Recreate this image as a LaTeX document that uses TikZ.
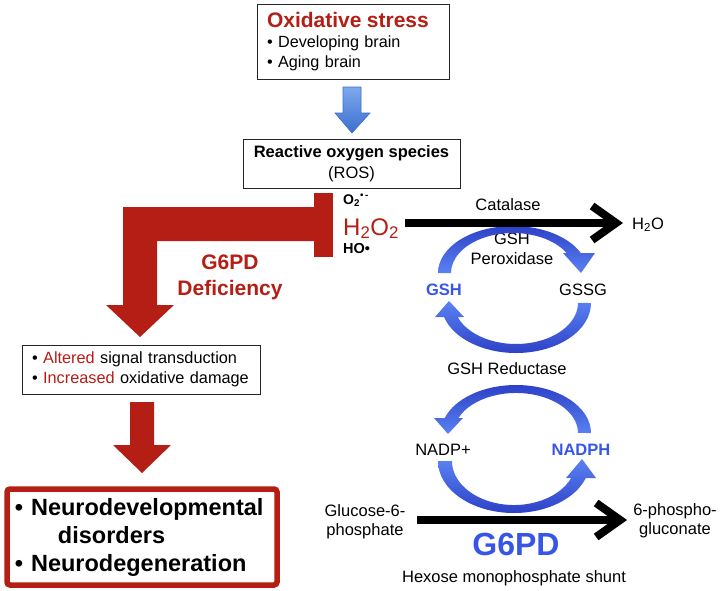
\documentclass[tikz,border=0pt]{standalone}
\usepackage{fontspec}
\setmainfont{Liberation Sans}
\usetikzlibrary{arrows.meta}
\definecolor{dred}{RGB}{180,30,20}
\definecolor{bdark}{RGB}{45,65,200}
\definecolor{blight}{RGB}{90,130,242}
\definecolor{tblue}{RGB}{55,85,230}
\definecolor{abluetop}{RGB}{125,170,238}
\definecolor{ablueb}{RGB}{60,110,205}
\newcommand\fsz[2]{\fontsize{#1pt}{#2pt}\selectfont}
\begin{document}
\begin{tikzpicture}[x=1pt,y=-1pt,
  box/.style={draw=black!85, line width=1pt, inner sep=0pt},
  blk/.style={line width=8pt, -{Straight Barb[length=24pt,width=34pt]}},
  upcurl/.style={top color=bdark, bottom color=blight, draw=none},
  downcurl/.style={top color=blight, bottom color=bdark, draw=none},
  lbl/.style={inner sep=0pt, font=\fsz{16.5}{19}},
  lblb/.style={inner sep=0pt, font=\fsz{16.5}{19}\bfseries, text=tblue},
]
\useasboundingbox (0,0) rectangle (724,590);

% top box
\node[box, minimum width=192pt, minimum height=75pt, text width=186pt, align=left, font=\fsz{16.2}{20}] (ox) at (353,41.5)
  {\hspace*{7pt}{\fsz{21}{22}\bfseries\color{dred}Oxidative stress\par}\hspace*{7pt}• Developing brain\\\hspace*{7pt}• Aging brain};

% blue down arrow
\shade[top color=abluetop, bottom color=ablueb, draw=ablueb, line width=0.6pt]
  (343,87) -- (361,87) -- (361,113) -- (370,113) -- (352,133) -- (335,113) -- (343,113) -- cycle;

% ROS box
\node[box, minimum width=217pt, minimum height=49pt, align=center, font=\fsz{16.5}{21}] (ros) at (351.5,163.5)
  {{\bfseries Reactive oxygen species}\\(ROS)};

% red L arrow and inhibition bar
\fill[dred] (314,207) -- (123,207) -- (123,305) -- (106,305) -- (140,337) -- (174,305) -- (157,305) -- (157,241) -- (314,241) -- cycle;
\fill[dred] (314,193) rectangle (333,257);

% species
\node[anchor=base west, inner sep=0pt, font=\fsz{14}{16}\bfseries] (o2) at (343,204) {O\textsubscript{2}\textsuperscript{•\,-}};
\node[anchor=base west, inner sep=0pt, font=\fsz{24}{28}, text=dred] (h2o2) at (343,235) {H\textsubscript{2}O\textsubscript{2}};
\node[anchor=base west, inner sep=0pt, font=\fsz{14.5}{16}\bfseries] (ho) at (343,253) {HO•};

\node[align=center, inner sep=0pt, font=\fsz{21}{26}\bfseries, text=dred] (def) at (230,277) {G6PD\\Deficiency};

% altered box
\node[box, minimum width=238pt, minimum height=49pt, text width=222pt, align=left, font=\fsz{16.3}{20}] (alt) at (141,369.5)
  {\hspace*{2pt}• \textcolor{dred}{Altered} signal transduction\\\hspace*{2pt}• \textcolor{dred}{Increased} oxidative damage};

% second red arrow
\fill[dred] (130,402) -- (154,402) -- (154,445) -- (171,445) -- (142,473) -- (113,445) -- (130,445) -- cycle;

% outcome box
\node[draw=dred, line width=5.5pt, rounded corners=3pt, inner sep=0pt, minimum width=270pt, minimum height=96pt,
  text width=262pt, align=left, font=\fsz{23.5}{28}\bfseries] (nd) at (142,537)
  {\hspace*{4pt}• Neurodevelopmental\\\hspace*{47pt}disorders\\\hspace*{4pt}• Neurodegeneration};

% right side labels
\node[lbl, anchor=base] (cat) at (508,210) {Catalase};
\node[lbl, anchor=base west] (h2o) at (632,229) {H\textsubscript{2}O};
\node[lbl, align=center, font=\fsz{16.5}{20}] (gpx) at (512,249) {GSH\\Peroxidase};
\node[lblb, anchor=base] (gsh) at (444,295) {GSH};
\node[lbl, anchor=base] (gssg) at (583,295) {GSSG};
\node[lbl, anchor=base] (gr) at (507,374) {GSH Reductase};
\node[lbl, anchor=base] (nadp) at (443,455) {NADP+};
\node[lblb, anchor=base] (nadph) at (581,455) {NADPH};
\node[lbl, align=center] (glu) at (365,522) {Glucose-6-\\phosphate};
\node[lbl, align=center] (pho) at (675,521) {6-phospho-\\gluconate};
\node[inner sep=0pt, font=\fsz{32}{36}\bfseries, text=tblue, anchor=base] (g6pd) at (516,555) {G6PD};
\node[lbl, anchor=base] (hmp) at (514,582) {Hexose monophosphate shunt};

% blue cycle arrows (tapered curved arrows)
% GSH -> GSSG (GSH peroxidase)
\shade[upcurl] (438,273) arc[start angle=180, end angle=335, x radius=75, y radius=47]
  -- (595,253) -- (581,273) -- (563,253) -- (566.7,253)
  arc[start angle=330, end angle=180, x radius=62, y radius=40] -- cycle;
% GSSG -> GSH (GSH reductase)
\shade[downcurl] (591,303) arc[start angle=0, end angle=163.7, x radius=75, y radius=50]
  -- (435,317) -- (449,301) -- (464,317) -- (457.7,317)
  arc[start angle=160, end angle=0, x radius=62, y radius=41] -- cycle;
% NADPH -> NADP+
\shade[upcurl] (591,433) arc[start angle=0, end angle=-161.8, x radius=75, y radius=48]
  -- (434,418) -- (448,434) -- (463,418) -- (458.5,418)
  arc[start angle=-158, end angle=0, x radius=62, y radius=40] -- cycle;
% NADP+ -> NADPH
\shade[downcurl] (438,461) arc[start angle=180, end angle=19.1, x radius=76, y radius=52]
  -- (596,478) -- (582,459) -- (566,478) -- (571.2,478)
  arc[start angle=22.7, end angle=180, x radius=62, y radius=44] -- cycle;

% black reaction arrows
\coordinate (catS) at (405,223);
\draw[blk, shorten >=9pt] (catS) -- (catS -| h2o.west);
\coordinate (gluS) at (417,520);
\draw[blk, shorten >=6pt] (gluS) -- (gluS -| pho.west);
\end{tikzpicture}
\end{document}
